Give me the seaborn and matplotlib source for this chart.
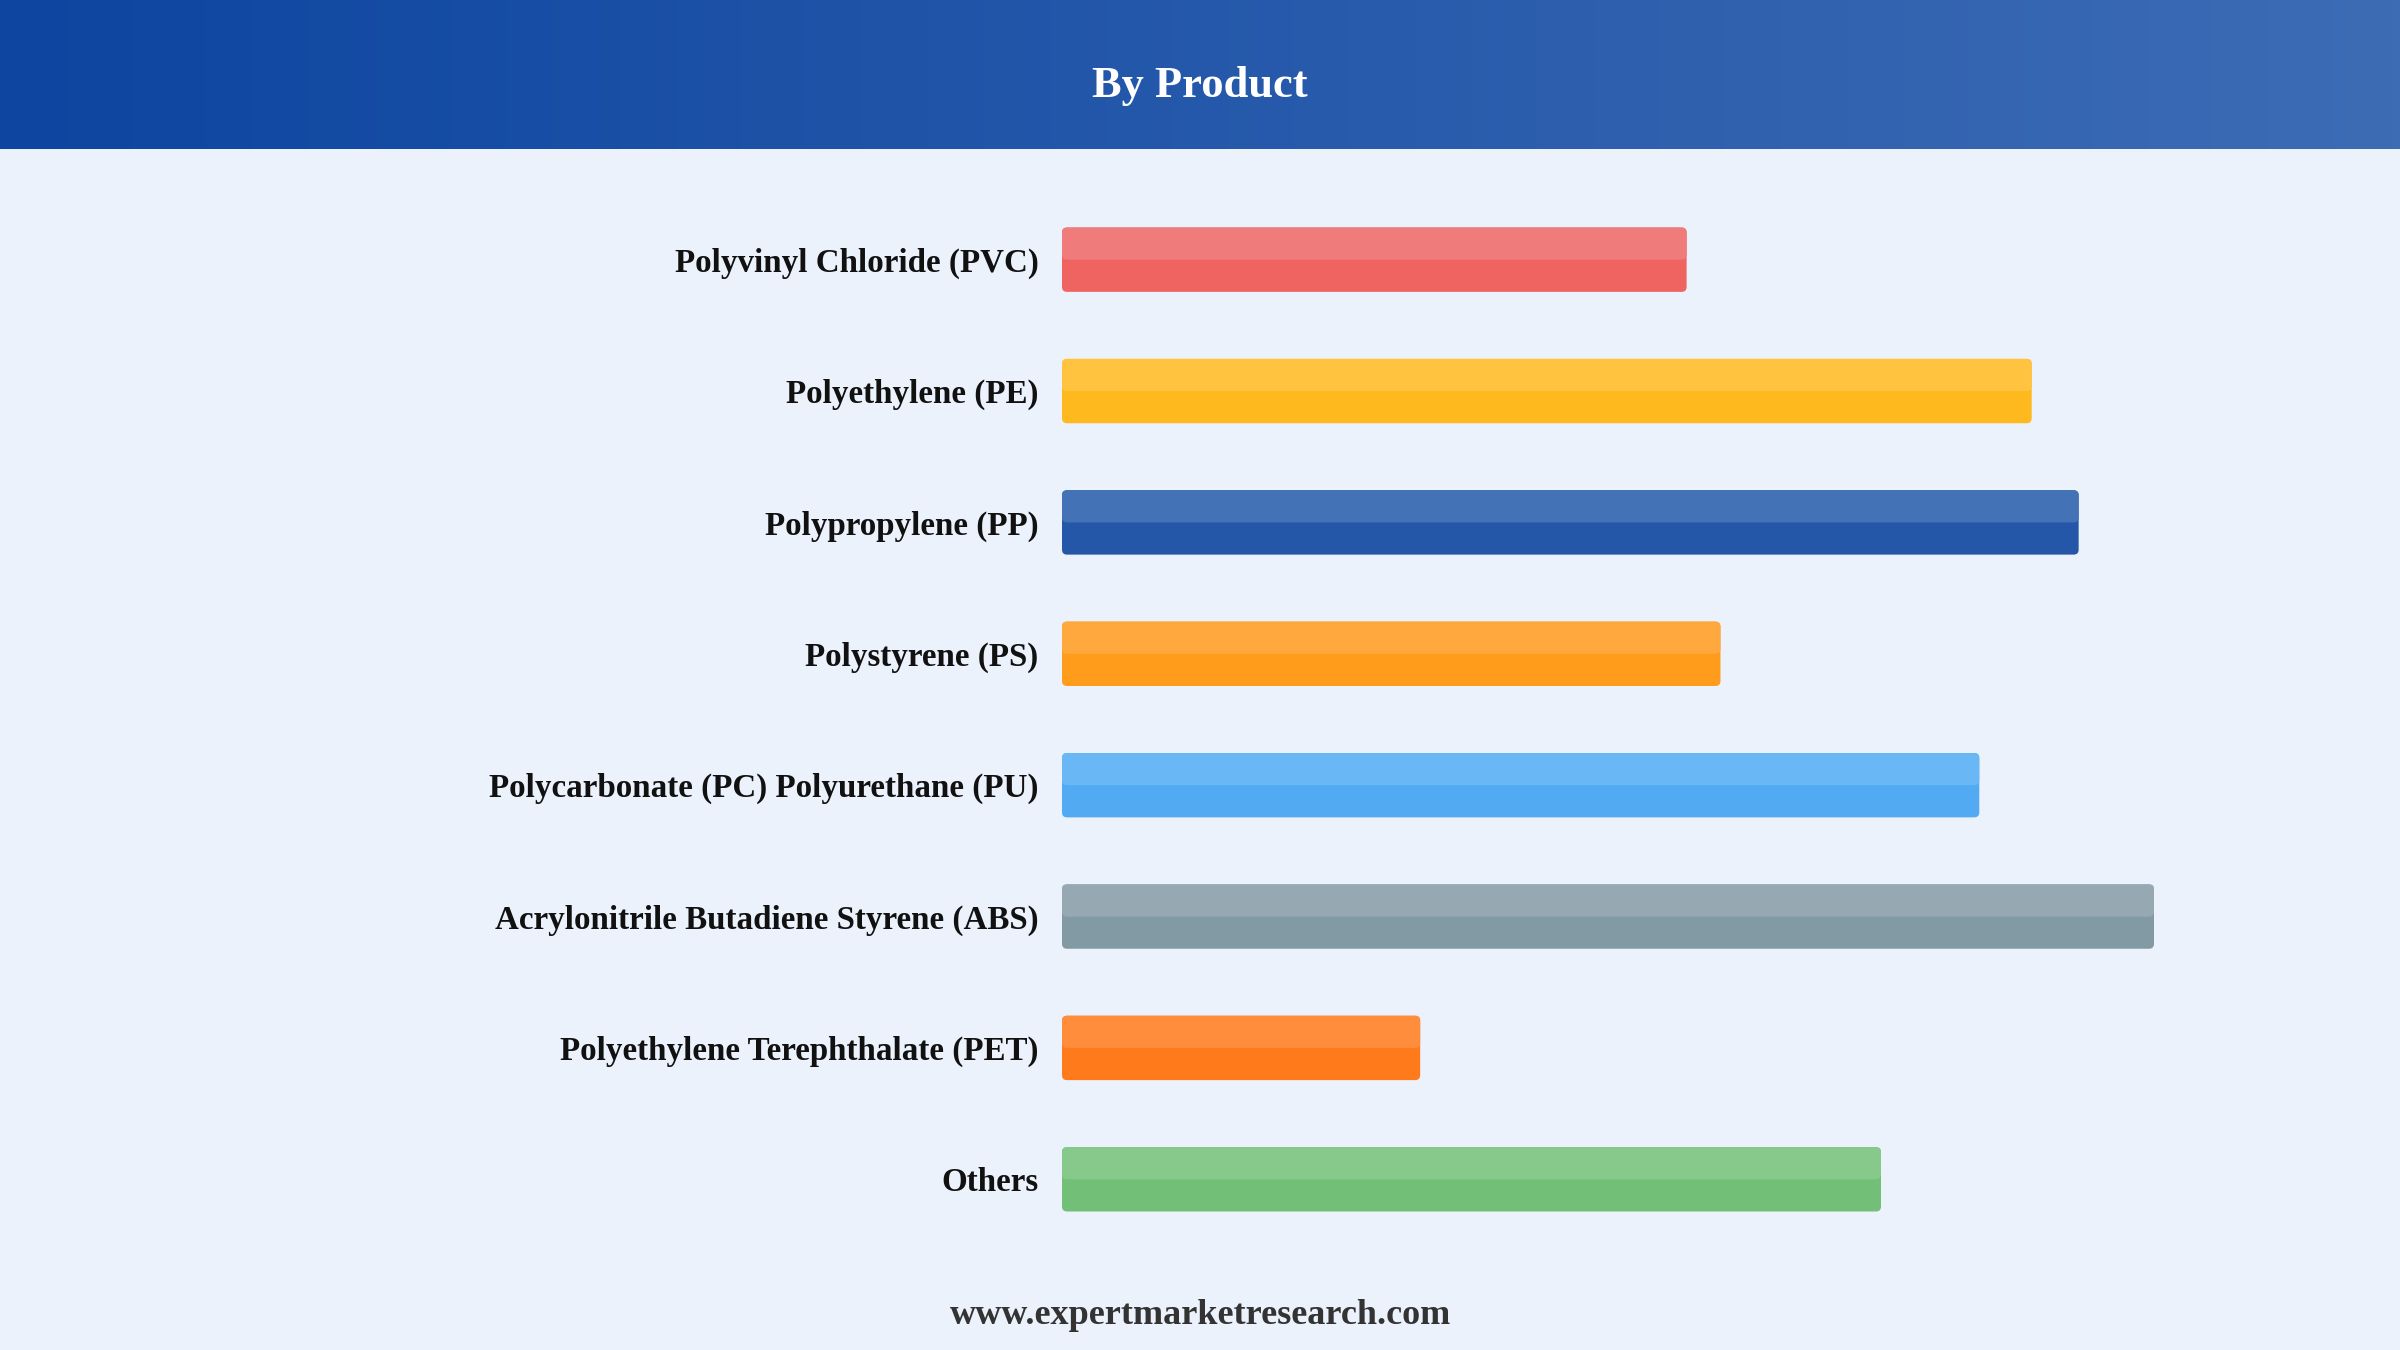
import matplotlib
matplotlib.use('Agg')
import matplotlib.pyplot as plt
from matplotlib.patches import FancyBboxPatch
import numpy as np
import pandas as pd
import seaborn as sns

# chart data (relative bar lengths)
products = [
    'Polyvinyl Chloride (PVC)',
    'Polyethylene (PE)',
    'Polypropylene (PP)',
    'Polystyrene (PS)',
    'Polycarbonate (PC) Polyurethane (PU)',
    'Acrylonitrile Butadiene Styrene (ABS)',
    'Polyethylene Terephthalate (PET)',
    'Others',
]
values = [57.2, 88.8, 93.1, 60.3, 84.0, 100.0, 32.8, 75.0]
base_colors = ['#EF6461', '#FDB91E', '#2457A8', '#FF9C1C',
               '#52ABF2', '#829AA4', '#FE7A1A', '#72BF78']
top_colors = ['#F07B7B', '#FFC33F', '#4372B6', '#FFA83E',
              '#69B7F5', '#96A9B2', '#FF8D3B', '#86C98B']

title = 'By Product'
footer = 'www.expertmarketresearch.com'

BG = '#EBF2FC'

sns.set_style('white')
plt.rcParams['font.family'] = ['Liberation Serif', 'DejaVu Serif']

W, H = 2400, 1350
fig = plt.figure(figsize=(24, 13.5), dpi=100)
fig.patch.set_facecolor(BG)

# header band with horizontal gradient
head_h = 149 / H
hax = fig.add_axes([0, 1 - head_h, 1, head_h])
grad = np.linspace(0, 1, 256).reshape(1, -1)
cmap = matplotlib.colors.LinearSegmentedColormap.from_list('hdr', ['#0D45A0', '#3D6CB5'])
hax.imshow(grad, aspect='auto', cmap=cmap, extent=[0, 1, 0, 1])
hax.set_axis_off()
hax.text(0.5, 0.42, title, ha='center', va='center', color='white',
         fontsize=32, fontweight='bold', transform=hax.transAxes)

# bar axes
x0, x1 = 1062, 2154
y_top, y_bot = 194, 1245
ax = fig.add_axes([x0 / W, 1 - y_bot / H, (x1 - x0) / W, (y_bot - y_top) / H])
ax.set_facecolor(BG)

df = pd.DataFrame({'product': products, 'value': values})
sns.barplot(data=df, x='value', y='product', hue='product', palette=base_colors,
            orient='h', width=0.49, legend=False, ax=ax)

ax.set_xlim(0, 100)
ax.set_ylim(len(products) - 0.5, -0.5)

# replace plain rectangles by rounded bars with a lighter top half
px_x = (x1 - x0) / 100.0
px_y = (y_bot - y_top) / len(products)
r_px = 5
rx = r_px / px_x
aspect = (r_px / px_y) / rx
bars = list(ax.patches)
for i, p in enumerate(bars):
    bx, by, bw, bh = p.get_x(), p.get_y(), p.get_width(), p.get_height()
    p.remove()
    ax.add_patch(FancyBboxPatch((bx, by), bw, bh,
                                boxstyle=f'round,pad=0,rounding_size={rx}',
                                mutation_aspect=aspect, fc=base_colors[i], ec='none'))
    ax.add_patch(FancyBboxPatch((bx, by), bw, bh / 2,
                                boxstyle=f'round,pad=0,rounding_size={rx}',
                                mutation_aspect=aspect, fc=top_colors[i], ec='none'))

ax.set_xlabel('')
ax.set_ylabel('')
ax.set_xticks([])
ax.tick_params(axis='y', length=0, pad=17)
for lab in ax.get_yticklabels():
    lab.set_fontsize(23.8)
    lab.set_fontweight('bold')
    lab.set_color('#111111')
sns.despine(ax=ax, left=True, bottom=True)

fig.text(0.5, 1 - 1316 / H, footer, ha='center', va='center', color='#333333',
         fontsize=26, fontweight='bold')

fig.savefig('out.png', dpi=100, facecolor=BG)
